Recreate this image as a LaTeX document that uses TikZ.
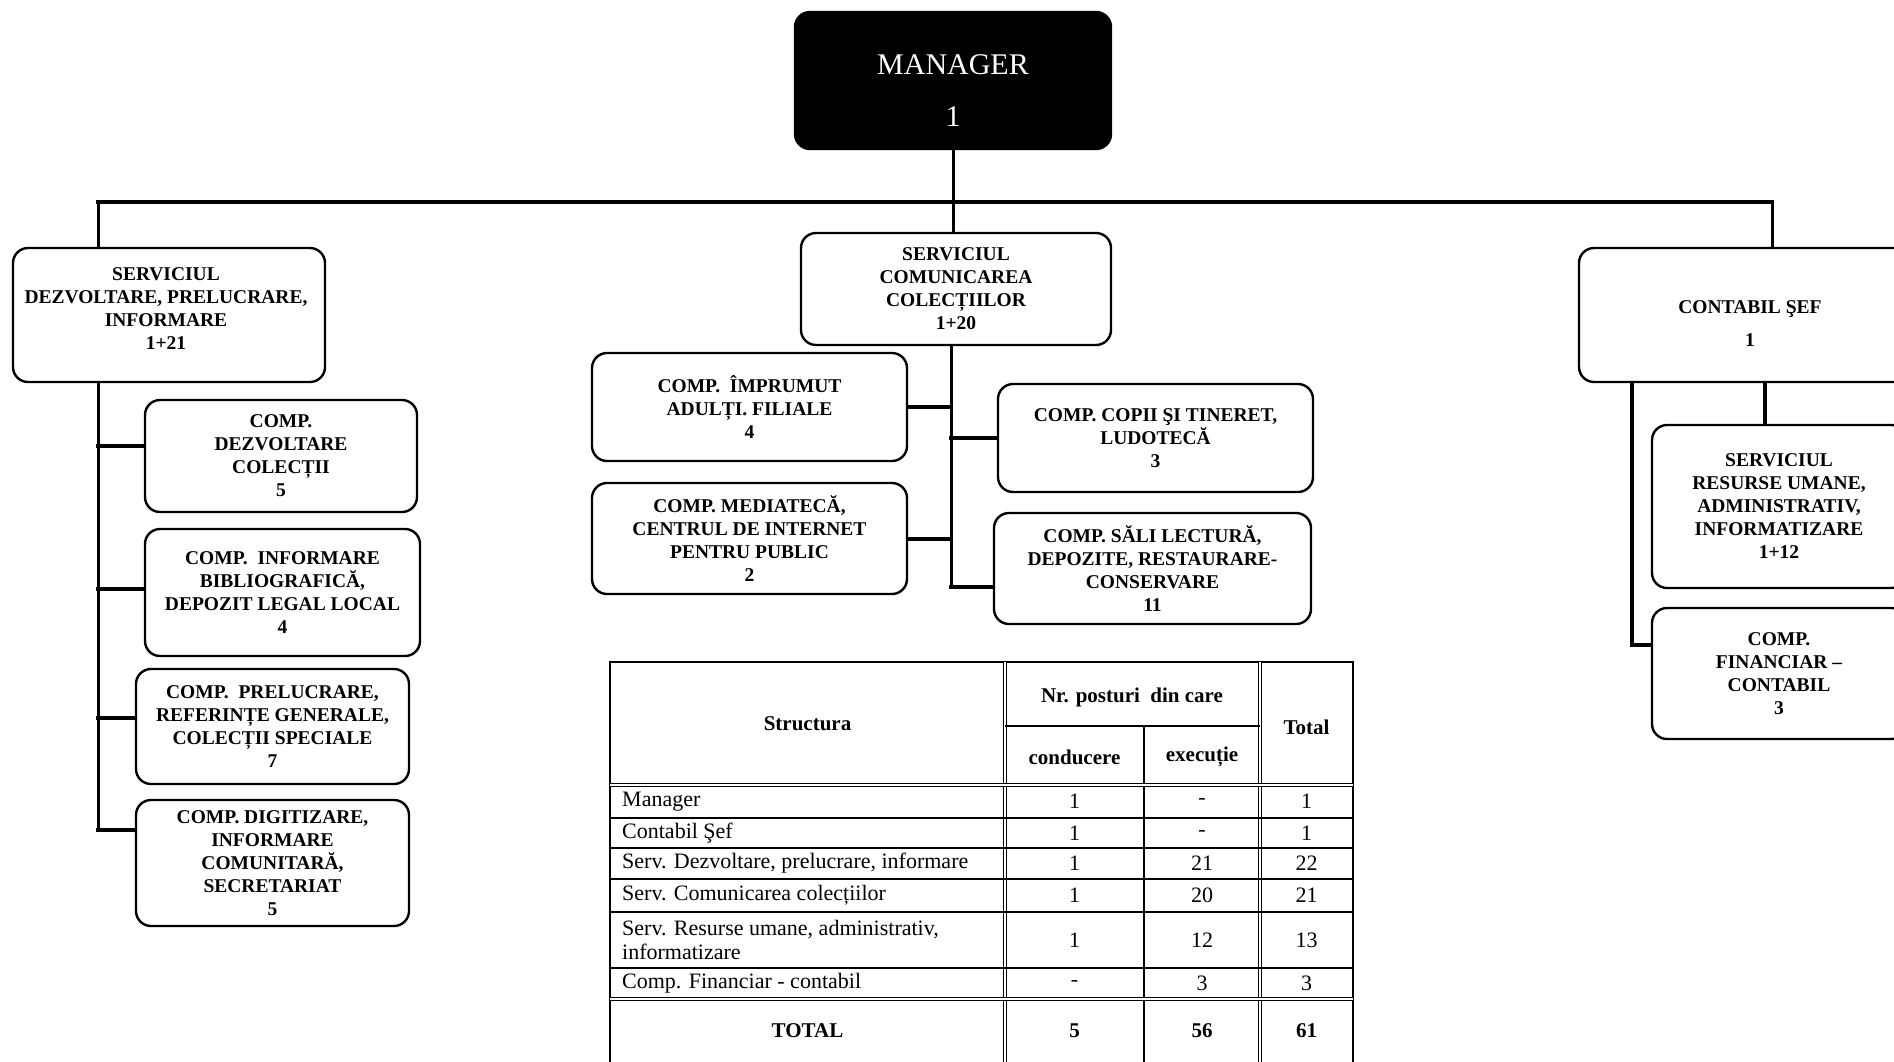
\documentclass[tikz,border=0pt]{standalone}
\usepackage{fontspec}
\setmainfont{Liberation Serif}

\begin{document}
\begin{tikzpicture}[x=1pt,y=-1pt,
  box/.style={draw,line width=2.4pt,rounded corners=15pt,align=center,inner sep=0pt,
    font=\bfseries\fontsize{19.5}{23}\selectfont},
  link/.style={line width=3pt,line cap=rect},
  branch/.style={line width=4pt,line cap=rect},
  cell/.style={inner sep=0pt,font=\fontsize{22}{24}\selectfont},
  head/.style={inner sep=0pt,font=\bfseries\fontsize{21}{24}\selectfont},
  tabline/.style={line width=1.6pt},
  tabdouble/.style={line width=0.9pt,double,double distance=2pt}]
% Page
\fill[white] (0,0) rectangle (1894,1061);
\useasboundingbox (0,0) rectangle (1894,1061);
\clip (0,0) rectangle (1894,1061);
% Manager
\node[box,fill=black,minimum width=316pt,minimum height=137pt] (mgr) at (953,80.5) {};
\node[white,align=center,font=\fontsize{30}{52}\selectfont] (mgrtext) at (953,91) {MANAGER\\1};
% Services
\node[box,minimum width=312pt,minimum height=134pt] (sdpi) at (169,315) {};
\node[box,draw=none] (sdpitext) at (166,309) {SERVICIUL\\DEZVOLTARE, PRELUCRARE,\\INFORMARE\\1+21};
\node[box,minimum width=310pt,minimum height=112pt] (scc) at (956,289) {SERVICIUL\\COMUNICAREA\\COLECȚIILOR\\1+20};
\node[box,minimum width=342pt,minimum height=134pt] (csef) at (1750,315) {};
\node[box,draw=none] (cseftext) at (1750,324) {CONTABIL ŞEF\\[10pt]1};
% Left compartments
\node[box,minimum width=272pt,minimum height=112pt] (cdc) at (281,456) {COMP.\\DEZVOLTARE\\COLECȚII\\5};
\node[box,minimum width=275pt,minimum height=127pt] (cib) at (282.5,592.5) {COMP.\ \ INFORMARE\\BIBLIOGRAFICĂ,\\DEPOZIT LEGAL LOCAL\\4};
\node[box,minimum width=273pt,minimum height=115pt] (cpr) at (272.5,726.5) {COMP.\ \ PRELUCRARE,\\REFERINȚE GENERALE,\\COLECȚII SPECIALE\\7};
\node[box,minimum width=273pt,minimum height=126pt] (cdi) at (272.5,863) {COMP. DIGITIZARE,\\INFORMARE\\COMUNITARĂ,\\SECRETARIAT\\5};
% Central compartments
\node[box,minimum width=315pt,minimum height=108pt] (cia) at (749.5,407) {COMP.\ \ ÎMPRUMUT\\ADULȚI. FILIALE\\4};
\node[box,minimum width=315pt,minimum height=111pt] (cm) at (749.5,538.5) {COMP. MEDIATECĂ,\\CENTRUL DE INTERNET\\PENTRU PUBLIC\\2};
\node[box,minimum width=315pt,minimum height=108pt] (cct) at (1155.5,438) {COMP. COPII ŞI TINERET,\\LUDOTECĂ\\3};
\node[box,minimum width=317pt,minimum height=111pt] (csl) at (1152.5,568.5) {COMP. SĂLI LECTURĂ,\\DEPOZITE, RESTAURARE-\\CONSERVARE\\11};
% Right compartments
\node[box,minimum width=254pt,minimum height=163pt] (sru) at (1779,506.5) {SERVICIUL\\RESURSE UMANE,\\ADMINISTRATIV,\\INFORMATIZARE\\1+12};
\node[box,minimum width=254pt,minimum height=131pt] (cfc) at (1779,673.5) {COMP.\\FINANCIAR --\\CONTABIL\\3};
% Main bar
\coordinate (barL) at (98,202);
\coordinate (barR) at (1772,202);
\draw[link] (mgr.south) -- (mgr.south |- scc.north);
\draw[branch] (barL) -- (barR);
\draw[link] (barL) -- (barL |- sdpi.north);
\draw[link] (barR) -- (barR |- csef.north);
% Left spine
\coordinate (spineL) at (98,830);
\coordinate (cdcIn) at ([yshift=10pt]cdc.west);
\coordinate (cibIn) at ([yshift=4pt]cib.west);
\coordinate (cprIn) at ([yshift=9pt]cpr.west);
\coordinate (cdiIn) at ([yshift=33pt]cdi.west);
\draw[link] (spineL |- sdpi.south) -- (spineL);
\draw[branch] (spineL |- cdcIn) -- (cdcIn);
\draw[branch] (spineL |- cibIn) -- (cibIn);
\draw[branch] (spineL |- cprIn) -- (cprIn);
\draw[branch] (spineL) -- (cdiIn);
% Central spine
\coordinate (spineC) at (951,587);
\coordinate (cslIn) at ([yshift=-18.5pt]csl.west);
\draw[link] (spineC |- scc.south) -- (spineC);
\draw[branch] (cia.east) -- (cia.east -| spineC);
\draw[branch] (cm.east) -- (cm.east -| spineC);
\draw[branch] (cct.west) -- (cct.west -| spineC);
\draw[branch] (spineC) -- (cslIn);
% Right spine
\coordinate (spineR) at (1632,645);
\coordinate (sruIn) at ([xshift=-14pt]sru.north);
\coordinate (cfcIn) at ([yshift=28.5pt]cfc.west);
\draw[branch] (sruIn |- csef.south) -- (sruIn);
\draw[branch] (spineR |- csef.south) -- (spineR) -- (cfcIn);
% Table grid
\draw[line width=2.5pt] (610,662) rectangle (1353,1075);
\draw[tabdouble] (1005,662) -- (1005,1075);
\draw[tabdouble] (1260,662) -- (1260,1075);
\draw[tabline] (1144,726) -- (1144,1075);
\draw[tabline] (1005,726) -- (1260,726);
\draw[tabdouble] (610,785) -- (1353,785);
\foreach \y in {818,848,879,912,968}
  \draw[tabline] (610,\y) -- (1353,\y);
\draw[tabdouble] (610,999) -- (1353,999);
% Table head
\node[head] (hstruct) at (807.5,724) {Structura};
\node[head] (hnr) at (1132,697) {Nr. posturi\ \ din care};
\node[head] (hcond) at (1074.5,757) {conducere};
\node[head] (hexec) at (1202,757) {execuție};
\node[head] (htot) at (1306.5,727) {Total};
% Table rows
\foreach \n/\y/\t/\a/\b/\c in {rman/801.5/Manager/1/-/1,
    rcs/833/{Contabil Şef}/1/-/1,
    rsd/863.5/{Serv. Dezvoltare, prelucrare, informare}/1/21/22,
    rsc/895.5/{Serv. Comunicarea colecțiilor}/1/20/21,
    rsr/940/{Serv. Resurse umane, administrativ,\\informatizare}/1/12/13,
    rcf/983.5/{Comp. Financiar - contabil}/-/3/3} {
  \node[cell,anchor=west,align=left] (\n) at (622,\y) {\t};
  \node[cell] (\n-a) at (1074.5,\y) {\a};
  \node[cell] (\n-b) at (1202,\y) {\b};
  \node[cell] (\n-c) at (1306.5,\y) {\c};
}
% Totals
\node[head] (tot) at (807.5,1031) {TOTAL};
\node[head] (tot-a) at (1074.5,1031) {5};
\node[head] (tot-b) at (1202,1031) {56};
\node[head] (tot-c) at (1306.5,1031) {61};
\end{tikzpicture}
\end{document}
